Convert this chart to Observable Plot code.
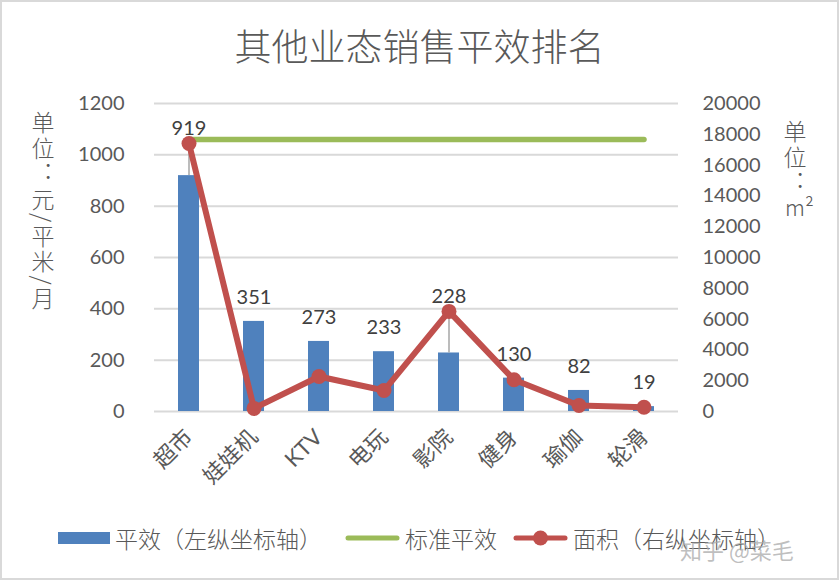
<!DOCTYPE html>
<html><head><meta charset="utf-8">
<script src="https://cdn.jsdelivr.net/npm/d3@7"></script>
<script src="https://cdn.jsdelivr.net/npm/@observablehq/plot@0.6"></script>
<style>
body{margin:0;background:#fff;}
#wrap{position:relative;width:839px;height:580px;overflow:hidden;background:#fff;font-family:Lato,"Noto Sans CJK SC",sans-serif;color:#595959;}
#frame{position:absolute;left:0;top:0;width:835px;height:576px;border:2px solid #d9d9d9;pointer-events:none;}
#title{position:absolute;left:0;top:27px;width:839px;text-align:center;font-family:"Noto Sans CJK SC",sans-serif;font-size:37px;line-height:36px;font-weight:300;color:#595959;}
#chart{position:absolute;left:0;top:0;}
.vt{position:absolute;writing-mode:vertical-rl;font-family:"Noto Sans CJK SC",sans-serif;font-size:23px;line-height:24px;color:#595959;font-weight:300;letter-spacing:2.5px;}
#ylL{left:31px;top:111px;}
#ylR{left:783px;top:120px;}
#m2{position:absolute;left:785px;top:194px;font-family:"Noto Sans CJK SC",sans-serif;font-size:22px;line-height:24px;color:#595959;font-weight:300;}
.lg{position:absolute;top:524px;height:28px;display:flex;align-items:center;font-family:"Noto Sans CJK SC",sans-serif;font-size:23px;color:#595959;font-weight:300;white-space:nowrap;}
.lg svg{margin-right:5px;}
#wm{position:absolute;left:680px;top:533px;font-family:"Noto Sans CJK SC",sans-serif;font-size:22px;color:rgba(170,170,170,0.75);white-space:nowrap;}
</style></head><body>
<div id="wrap">
  <div id="title">其他业态销售平效排名</div>
  <div id="chart"></div>
  <div class="vt" id="ylL">单位：元/平米/月</div>
  <div class="vt" id="ylR">单位：</div>
  <div id="m2">m²</div>
  <div class="lg" style="left:58px;"><svg width="52" height="14"><rect x="0" y="1" width="52" height="12" fill="#4f81bd"/></svg>平效（左纵坐标轴）</div>
  <div class="lg" style="left:345px;"><svg width="55" height="14"><line x1="3" y1="7" x2="52" y2="7" stroke="#9bbb59" stroke-width="5" stroke-linecap="round"/></svg>标准平效</div>
  <div class="lg" style="left:513px;"><svg width="55" height="18"><line x1="3" y1="9" x2="52" y2="9" stroke="#c0504d" stroke-width="5" stroke-linecap="round"/><circle cx="27.5" cy="9" r="7.5" fill="#c0504d"/></svg>面积（右纵坐标轴）</div>
  <div id="wm">知乎 @菜毛</div>
  <div id="frame"></div>
</div>
<script>
const categories = ["超市","娃娃机","KTV","电玩","影院","健身","瑜伽","轮滑"];
const pingxiao = [919,351,273,233,228,130,82,19];
const standardPingxiao = [1060,1060,1060,1060,1060,1060,1060,1060];
const area = [17400,200,2270,1360,6500,2060,390,280];
const leftTicks = [0,200,400,600,800,1000,1200];
const rightTicks = [0,2000,4000,6000,8000,10000,12000,14000,16000,18000,20000];

const leftMax = 1200, rightMax = 20000;
const ratio = leftMax / rightMax;

const rows = categories.map((c,i)=>({
  cat:c, pingxiao:pingxiao[i], standard:standardPingxiao[i], area:area[i], areaL:area[i]*ratio
}));
const leaderRows = rows.filter(d=>d.areaL > d.pingxiao + 10);
const plainRows = rows.filter(d=>!(d.areaL > d.pingxiao + 10));

const W = 839, H = 500;
const chart = Plot.plot({
  width: W, height: H,
  marginLeft: 154, marginRight: 161, marginTop: 103, marginBottom: 89,
  style: {background:"transparent", color:"#595959", fontFamily:'Lato,"Noto Sans CJK SC",sans-serif', fontSize:"20px", overflow:"visible"},
  x: {domain: categories, paddingInner: 0.68, paddingOuter: 0.34},
  y: {domain: [0, leftMax]},
  marks: [
    Plot.gridY(leftTicks, {stroke:"#d9d9d9", strokeOpacity:1, strokeWidth:2}),
    Plot.axisY(leftTicks, {anchor:"left", tickSize:0, tickPadding:30, fontSize:20, label:null, fill:"#595959", tickFormat:d=>String(d)}),
    Plot.axisY(rightTicks.map(v=>v*ratio), {anchor:"right", tickSize:0, tickPadding:24, fontSize:20, label:null, fill:"#595959", tickFormat: d=>String(Math.round(d/ratio))}),
    Plot.axisX({tickRotate:-45, tickSize:0, tickPadding:22, fontSize:22, label:null, fill:"#595959"}),
    Plot.barY(rows, {x:"cat", y:"pingxiao", fill:"#4f81bd"}),
    Plot.lineY(rows, {x:"cat", y:"standard", stroke:"#9bbb59", strokeWidth:5.5, strokeLinecap:"round"}),
    Plot.ruleX(leaderRows, {x:"cat", y1:"pingxiao", y2:"areaL", stroke:"#a6a6a6", strokeWidth:1.5}),
    Plot.lineY(rows, {x:"cat", y:"areaL", stroke:"#c0504d", strokeWidth:6, strokeLinejoin:"round"}),
    Plot.dot(rows, {x:"cat", y:"areaL", r:7.5, fill:"#c0504d"}),
    Plot.text(leaderRows, {x:"cat", y:"areaL", text:d=>String(d.pingxiao), dy:-15, fontSize:20, fill:"#404040"}),
    Plot.text(plainRows, {x:"cat", y:d=>Math.max(d.pingxiao, d.areaL), text:d=>String(d.pingxiao), dy:-24, fontSize:20, fill:"#404040"})
  ]
});
document.getElementById("chart").appendChild(chart);
</script>
</body></html>
